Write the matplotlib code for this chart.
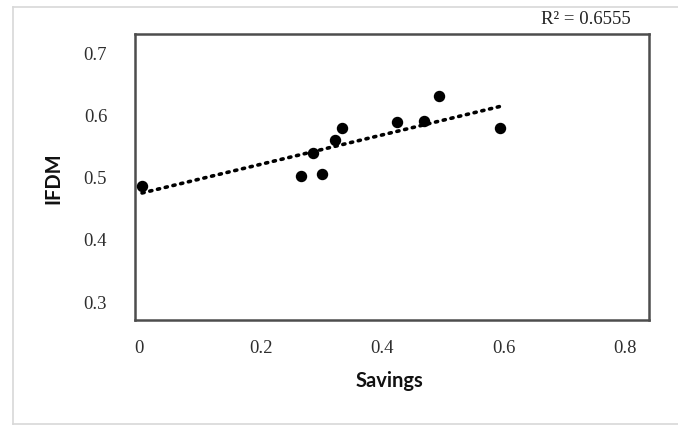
import matplotlib
matplotlib.use("Agg")
import matplotlib.pyplot as plt
from matplotlib.patches import Rectangle
import numpy as np

# Savings vs IFDM observations
savings = [0.005, 0.266, 0.286, 0.301, 0.323, 0.334, 0.424, 0.469, 0.494, 0.595]
ifdm = [0.484, 0.501, 0.538, 0.504, 0.558, 0.578, 0.588, 0.590, 0.630, 0.578]
x_ticks = [0, 0.2, 0.4, 0.6, 0.8]
y_ticks = [0.3, 0.4, 0.5, 0.6, 0.7]
r2_label = "R\u00b2 = 0.6555"

fig = plt.figure(figsize=(6.78, 4.27), dpi=100)
fig.patch.set_facecolor("white")

# light frame around the whole chart
frame_color = "#d8d8d8"
fig.add_artist(plt.Line2D([13 / 678, 13 / 678], [2 / 427, 1 - 8 / 427],
                          color=frame_color, lw=1.2, transform=fig.transFigure))
fig.add_artist(plt.Line2D([13 / 678, 1], [1 - 8 / 427, 1 - 8 / 427],
                          color=frame_color, lw=1.2, transform=fig.transFigure))
fig.add_artist(plt.Line2D([13 / 678, 1], [2 / 427, 2 / 427],
                          color=frame_color, lw=1.2, transform=fig.transFigure))

ax = fig.add_axes([135 / 678, 1 - 321 / 427, 514 / 678, 286 / 427])
ax.set_xlim(-0.0066, 0.8395)
ax.set_ylim(0.2695, 0.729)

ax.scatter(savings, ifdm, s=52, color="black", zorder=3)

# linear trendline
coef = np.polyfit(savings, ifdm, 1)
xs = np.array([min(savings), max(savings)])
ax.plot(xs, np.polyval(coef, xs), color="black", lw=2.6,
        linestyle=(0, (0.6, 1.6)), dash_capstyle="round", zorder=2)

for s in ax.spines.values():
    s.set_color("#4d4d4d")
    s.set_linewidth(1.8)

ax.set_xticks(x_ticks)
ax.set_xticklabels(["0", "0.2", "0.4", "0.6", "0.8"])
ax.set_yticks(y_ticks)
ax.set_yticklabels(["0.3", "0.4", "0.5", "0.6", "0.7"])
ax.tick_params(length=0, labelsize=13.5, colors="#2e2e2e")
ax.tick_params(axis="y", pad=20)
ax.tick_params(axis="x", pad=14)
for lab in ax.get_xticklabels() + ax.get_yticklabels():
    lab.set_fontfamily("Liberation Serif")

ax.set_xlabel("Savings", fontfamily="Lato", fontweight="bold", fontsize=14.5, color="#111111")
ax.set_ylabel("IFDM", fontfamily="Lato", fontweight="bold", fontsize=14.5, color="#111111")
ax.xaxis.set_label_coords(0.496, -0.175)
ax.yaxis.set_label_coords(-0.14, 0.5)

# white patch behind the R² note, covering the frame line
fig.add_artist(Rectangle((525 / 678, 1 - 33 / 427), 153 / 678, 31 / 427,
                         facecolor="white", edgecolor="none", transform=fig.transFigure))
fig.text(586 / 678, 1 - 20 / 427, r2_label, fontfamily="Liberation Serif", fontsize=13.5,
         color="#222222", ha="center", va="center")

fig.savefig("out.png", dpi=100)
